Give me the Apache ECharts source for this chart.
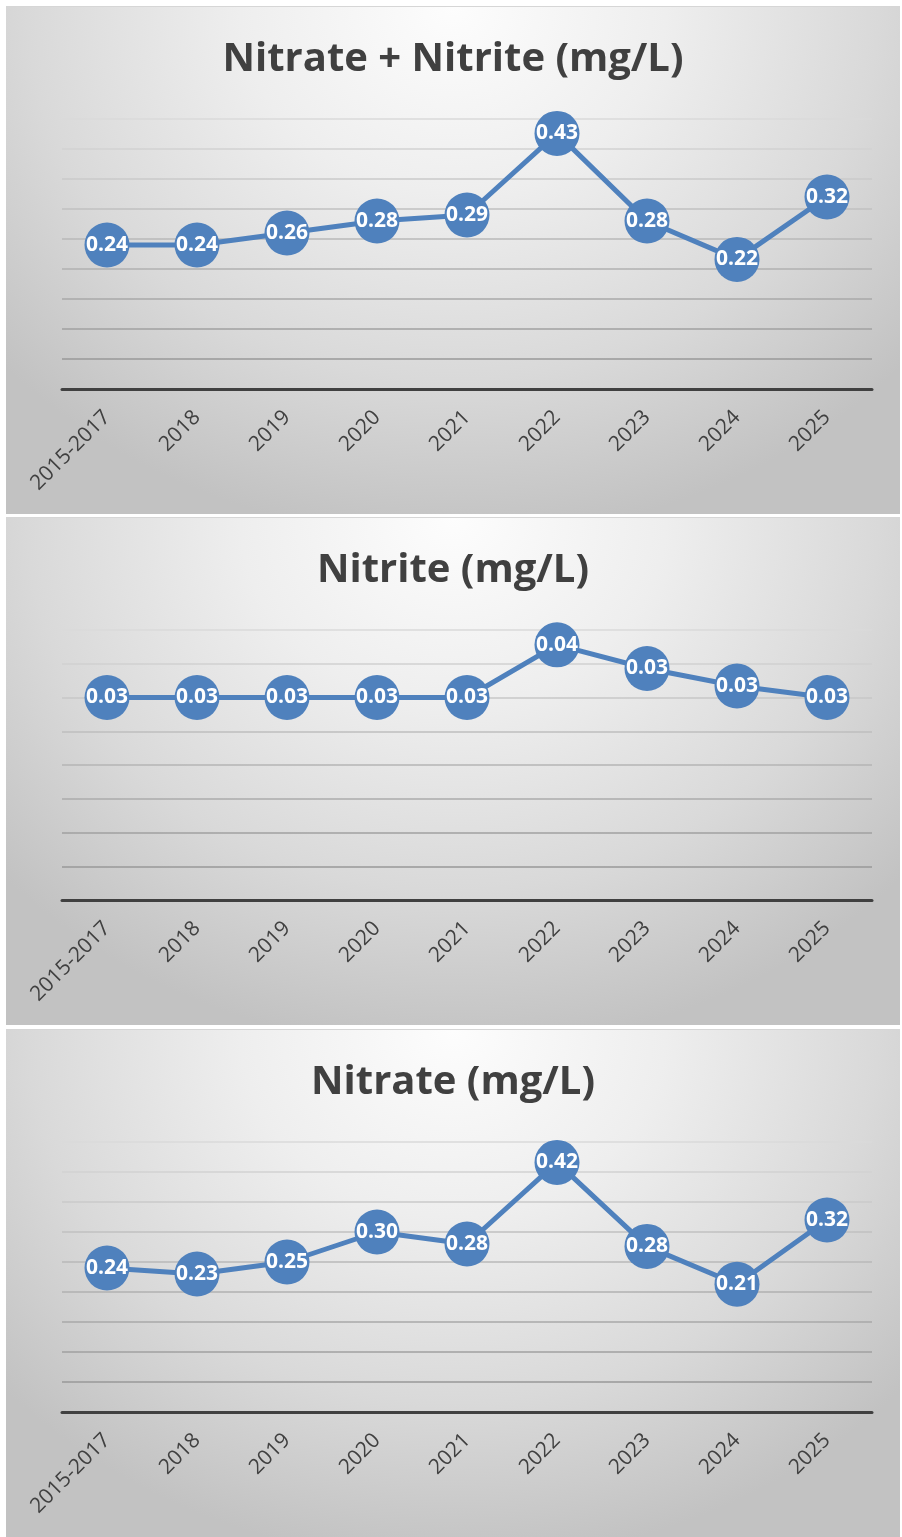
<!DOCTYPE html>
<html>
<head>
<meta charset="utf-8">
<script src="https://cdn.jsdelivr.net/npm/echarts@6/dist/echarts.min.js"></script>
<style>
  html, body { margin: 0; padding: 0; background: #ffffff; }
  body { width: 902px; height: 1537px; position: relative; overflow: hidden; }
  .panel {
    position: absolute; left: 6px; width: 894px; height: 508px;
    background: radial-gradient(ellipse 68% 105% at 50% 0%, #fdfdfd 0%, #eeeeee 35%, #d9d9d9 70%, #c2c2c2 100%);
    border-top: 1px solid #d6d6d6;
    box-sizing: border-box;
  }
</style>
</head>
<body>
<div class="panel" id="c1" style="top:6px"></div>
<div class="panel" id="c2" style="top:517px"></div>
<div class="panel" id="c3" style="top:1029px"></div>
<script>
// ---- data ----
const categories = ['2015-2017', '2018', '2019', '2020', '2021', '2022', '2023', '2024', '2025'];
const titles = ['Nitrate + Nitrite (mg/L)', 'Nitrite (mg/L)', 'Nitrate (mg/L)'];
const nitrateNitrite = [0.24, 0.24, 0.26, 0.28, 0.29, 0.426, 0.28, 0.216, 0.32];
const nitrite = [0.03, 0.03, 0.03, 0.03, 0.03, 0.0378, 0.0343, 0.0317, 0.03];
const nitrate = [0.24, 0.23, 0.25, 0.30, 0.28, 0.416, 0.276, 0.213, 0.32];
const yMax = [0.45, 0.04, 0.45];
const yInterval = [0.05, 0.005, 0.05];

const FONT = '"Open Sans", sans-serif';
const BLUE = '#4F81BD';

function gridColors(n) {
  // from bottom (min) to top: darker -> lighter
  const out = ['#404040'];
  for (let i = 1; i <= n; i++) {
    const t = (i - 1) / Math.max(1, n - 1);
    const v = Math.round(0x98 + t * (0xda - 0x98));
    const h = v.toString(16);
    out.push('#' + h + h + h);
  }
  return out;
}

function build(id, title, values, max, interval) {
  const chart = echarts.init(document.getElementById(id), null, { renderer: 'canvas' });
  const n = Math.round(max / interval);
  chart.setOption({
    animation: false,
    backgroundColor: 'transparent',
    title: {
      text: title,
      left: 'center',
      top: 28,
      textStyle: { fontFamily: FONT, fontWeight: 'bold', fontSize: 40, color: '#404040' }
    },
    grid: { left: 56, right: 28, top: 112, height: 270, containLabel: false },
    xAxis: {
      type: 'category',
      data: categories,
      boundaryGap: true,
      axisTick: { show: false },
      axisLine: { show: true, lineStyle: { color: '#404040', width: 3 } },
      axisLabel: { rotate: 45, color: '#404040', fontFamily: FONT, fontSize: 21, margin: 25, interval: 0 },
      splitLine: { show: false }
    },
    yAxis: {
      type: 'value',
      min: 0,
      max: max,
      interval: interval,
      axisLabel: { show: false },
      axisLine: { show: false },
      axisTick: { show: false },
      splitLine: { show: true, lineStyle: { color: gridColors(n), width: 1.5 } }
    },
    series: [{
      type: 'line',
      data: values,
      symbol: 'circle',
      symbolSize: 45,
      lineStyle: { color: BLUE, width: 5 },
      itemStyle: { color: BLUE },
      label: {
        show: true,
        position: 'inside',
        color: '#ffffff',
        fontFamily: FONT,
        fontWeight: 'bold',
        fontSize: 21,
        formatter: p => Number(p.value).toFixed(2)
      }
    }]
  });
}

build('c1', titles[0], nitrateNitrite, yMax[0], yInterval[0]);
build('c2', titles[1], nitrite, yMax[1], yInterval[1]);
build('c3', titles[2], nitrate, yMax[2], yInterval[2]);
</script>
</body>
</html>
